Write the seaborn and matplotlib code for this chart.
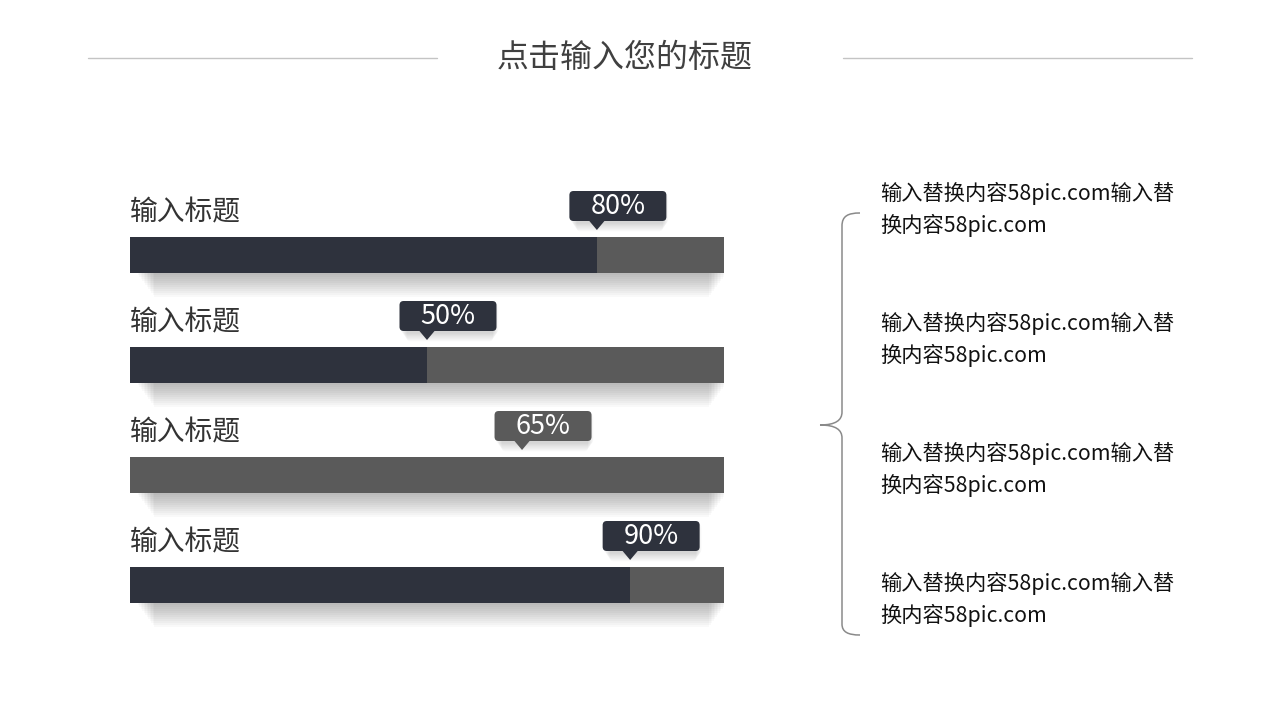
import matplotlib
matplotlib.use("Agg")
from matplotlib import pyplot as plt
from matplotlib.patches import FancyBboxPatch, Polygon, PathPatch
from matplotlib.path import Path
import numpy as np
import pandas as pd
import seaborn as sns

# data
titles = ["输入标题", "输入标题", "输入标题", "输入标题"]
pct_labels = ["80%", "50%", "65%", "90%"]
fill_values = [78.6, 50.0, 66.0, 84.2]  # where the dark fill actually ends (percent of track)
fill_colors = ["#2e323d", "#2e323d", "#5a5a5a", "#2e323d"]
notes = ["输入替换内容58pic.com输入替\n换内容58pic.com"] * 4

DARK = "#2e323d"
TRACK = "#5a5a5a"

sns.set_theme(style="white")
plt.rcParams["font.family"] = ["Noto Sans CJK SC", "DejaVu Sans"]

fig = plt.figure(figsize=(12.8, 7.2), dpi=100)
fig.patch.set_facecolor("white")

# overlay in pixel coords for decorations
ov = fig.add_axes([0, 0, 1, 1])
ov.set_xlim(0, 1280)
ov.set_ylim(720, 0)
ov.axis("off")

# title with side rules
ov.text(625, 58, "点击输入您的标题", fontsize=23, color="#404040", ha="center", va="center")
ov.plot([88, 437], [58, 58], color="#c4c4c4", lw=1)
ov.plot([843, 1192], [58, 58], color="#c4c4c4", lw=1)

# bar axes: x in percent, one category per 110 px
ax = fig.add_axes([130 / 1280, 80 / 720, 594 / 1280, 440 / 720])
df = pd.DataFrame({"idx": range(len(titles)), "track": [100] * 4, "fill": fill_values})
bw = 36 / 110

# soft drop shadow under each bar: layers get narrower further down
for k in range(12):
    off = 0.018 * (k + 1)
    inset = 0.5 + 0.25 * k
    ax.barh(df["idx"] + off, [100 - 2 * inset] * 4, left=inset + 0.8, height=bw, color="#000000",
            alpha=0.022, linewidth=0, zorder=0)

sns.barplot(data=df, x="track", y="idx", orient="h", color=TRACK, saturation=1, width=bw,
            linewidth=0, ax=ax, zorder=2)
sns.barplot(data=df, x="fill", y="idx", hue="idx", orient="h", palette=fill_colors, saturation=1,
            width=bw, linewidth=0, legend=False, ax=ax, zorder=3)

ax.set_xlim(0, 100)
ax.set_ylim(3.5, -0.5)
ax.axis("off")

px_x = 100 / 594   # percent per pixel
px_y = 1 / 110     # category units per pixel
for i, (t, lab, v, c) in enumerate(zip(titles, pct_labels, fill_values, fill_colors)):
    ax.text(0, i - 0.385, t, fontsize=20, color="#333333", ha="left", va="center", clip_on=False)
    # callout box
    bx_w, bx_h = 97 * px_x, 30 * px_y
    cx = v + 21 * px_x
    cy = i - 49 * px_y
    for k in range(7):
        sh = FancyBboxPatch((cx - bx_w / 2 + 0.3 + 0.15 * k, cy - bx_h / 2 + (k + 2) * 1.3 * px_y),
                            bx_w - 0.3 * k, bx_h,
                            boxstyle="round,pad=0,rounding_size=0.7", mutation_aspect=px_y / px_x,
                            fc="#000000", ec="none", alpha=0.025, zorder=4, clip_on=False)
        ax.add_patch(sh)
    box = FancyBboxPatch((cx - bx_w / 2, cy - bx_h / 2), bx_w, bx_h,
                         boxstyle="round,pad=0,rounding_size=0.7", mutation_aspect=px_y / px_x,
                         fc=c, ec="none", zorder=5, clip_on=False)
    ax.add_patch(box)
    tri = Polygon([[v - 8 * px_x, cy + bx_h / 2 - 0.005], [v + 8 * px_x, cy + bx_h / 2 - 0.005],
                   [v, cy + bx_h / 2 + 9 * px_y]], closed=True, fc=c, ec="none", zorder=5, clip_on=False)
    ax.add_patch(tri)
    ax.text(cx, cy + 1 * px_y, lab, fontsize=19.5, color="white", ha="center", va="center", zorder=6)

# brace on the right
verts = [(860, 213), (848, 213), (842, 216), (842, 226),
         (842, 412),
         (842, 420), (836, 425), (820, 425),
         (836, 425), (842, 430), (842, 438),
         (842, 624),
         (842, 632), (848, 635), (860, 635)]
codes = [Path.MOVETO, Path.CURVE4, Path.CURVE4, Path.CURVE4,
         Path.LINETO,
         Path.CURVE4, Path.CURVE4, Path.CURVE4,
         Path.CURVE4, Path.CURVE4, Path.CURVE4,
         Path.LINETO,
         Path.CURVE4, Path.CURVE4, Path.CURVE4]
ov.add_patch(PathPatch(Path(verts, codes), fc="none", ec="#8a8a8a", lw=1.1))

for j, note in enumerate(notes):
    ov.text(880, 182 + 130 * j, note, fontsize=15.3, color="#111111", ha="left", va="top",
            linespacing=1.5)

fig.savefig("out.png", dpi=100, facecolor="white")
